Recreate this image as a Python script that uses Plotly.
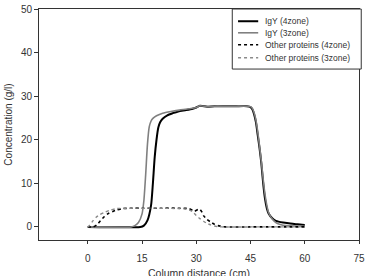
import plotly.graph_objects as go

# IgY (4zone)
igy4_x = [0, 14.5, 15.5, 16.5, 17.5, 18, 18.5, 19, 19.5, 20, 20.7, 22, 23.5, 25, 27.2, 29, 30, 31, 33, 35, 38, 41, 44,
          45, 45.5, 46, 46.5, 47, 47.5, 48, 48.5, 49, 49.5, 50, 51, 52, 54, 56, 58, 60]
igy4_y = [0, 0, 0.3, 1.5, 5, 10, 16, 20, 22.8, 24, 24.8, 25.6, 26.1, 26.5, 26.8, 27.1, 27.4, 27.8, 27.6, 27.7, 27.7, 27.7, 27.7,
          27.5, 27.0, 25.8, 24.0, 21.0, 18.0, 14.5, 10.0, 6.5, 4.3, 3.1, 2.0, 1.4, 1.0, 0.8, 0.6, 0.45]

# IgY (3zone)
igy3_x = [0, 12, 13, 14, 15, 15.5, 16, 16.5, 17, 17.5, 18, 19, 20.7, 23, 25.3, 28, 30, 31, 33, 35, 38, 41, 44,
          45, 45.5, 46, 46.5, 47, 47.5, 48, 48.5, 49, 49.5, 50, 51, 52, 53, 54, 56, 58, 60]
igy3_y = [0, 0, 0.3, 1.0, 3.0, 6.0, 12.0, 19.0, 23.0, 24.3, 24.9, 25.5, 26.1, 26.5, 26.8, 27.1, 27.4, 27.8, 27.6, 27.7, 27.7, 27.7, 27.7,
          27.6, 27.2, 26.2, 24.5, 21.8, 18.5, 15.0, 11.0, 7.5, 5.0, 3.3, 1.8, 1.0, 0.6, 0.4, 0.25, 0.2, 0.15]

# Other proteins (4zone)
oth4_x = [0, 1.5, 2.5, 3.5, 4.6, 5.5, 6.8, 8, 9.6, 12, 15, 20, 25, 28, 29, 29.5, 30.5, 31, 31.5, 32, 33, 34, 35, 36, 37, 38, 45, 50, 55, 60]
oth4_y = [0, 0, 0.5, 1.4, 2.4, 3.0, 3.5, 3.9, 4.2, 4.3, 4.3, 4.3, 4.3, 4.2, 3.8, 3.6, 4.0, 4.0, 3.5, 2.6, 1.7, 1.1, 0.6, 0.3, 0.1, 0, 0, 0, 0, 0]

# Other proteins (3zone)
oth3_x = [0, 0.5, 1.5, 2.3, 3.2, 4.5, 6, 8, 12, 15, 20, 25, 27, 28, 29, 30, 31, 32, 33, 34, 35, 36, 37, 45, 50, 55, 60]
oth3_y = [0, 0.4, 1.5, 2.2, 2.75, 3.3, 3.8, 4.2, 4.3, 4.3, 4.3, 4.2, 4.1, 3.9, 3.5, 2.6, 1.9, 1.3, 0.8, 0.45, 0.2, 0.05, 0, 0, 0, 0, 0]

series_names = ["IgY (4zone)", "IgY (3zone)", "Other proteins (4zone)", "Other proteins (3zone)"]
x_ticks = [0, 15, 30, 45, 60, 75]
y_ticks = [0, 10, 20, 30, 40, 50]
x_title = "Column distance (cm)"
y_title = "Concentration (g/l)"

styles = [
    dict(color="black", width=2, dash="solid"),
    dict(color="#808080", width=1.6, dash="solid"),
    dict(color="black", width=1.6, dash="dot"),
    dict(color="#8a8a8a", width=1.4, dash="dot"),
]
data = [(igy4_x, igy4_y), (igy3_x, igy3_y), (oth4_x, oth4_y), (oth3_x, oth3_y)]

fig = go.Figure()
for (xs, ys), name, st in zip(data, series_names, styles):
    fig.add_trace(go.Scatter(x=xs, y=ys, mode="lines", name=name, showlegend=False,
                             line=dict(color=st["color"], width=st["width"], dash=st["dash"],
                                       shape="spline", smoothing=0.6)))

# compact legend box (paper coordinates)
fig.add_shape(type="rect", xref="paper", yref="paper", x0=0.604, x1=1.007, y0=0.740, y1=1.0,
              line=dict(color="#333333", width=1), fillcolor="white", layer="above")
row_y = [0.947, 0.897, 0.845, 0.789]
for name, st, yy in zip(series_names, styles, row_y):
    fig.add_shape(type="line", xref="paper", yref="paper", x0=0.622, x1=0.685, y0=yy, y1=yy,
                  line=dict(color=st["color"], width=st["width"], dash=st["dash"]), layer="above")
    fig.add_annotation(text=name, xref="paper", yref="paper", x=0.700, y=yy, xanchor="left",
                       yanchor="middle", showarrow=False, font=dict(size=8.5, color="#333333"))

# x-axis title placed below the tick labels
fig.add_annotation(text=x_title, xref="paper", yref="paper", x=0.5, y=-0.142, xanchor="center",
                   yanchor="middle", showarrow=False, font=dict(size=10.5, color="#333333"))

fig.update_layout(
    width=367, height=276,
    margin=dict(l=39, r=8, t=9, b=36, autoexpand=False),
    paper_bgcolor="white", plot_bgcolor="white",
    font=dict(family="Liberation Sans, Arial, sans-serif", size=10, color="#333333"),
    showlegend=False,
)
fig.update_xaxes(range=[-13.5, 75], tickvals=x_ticks, ticktext=[str(v) for v in x_ticks],
                 showline=True, linecolor="#333333", linewidth=1, mirror=True, automargin=False,
                 ticks="outside", ticklen=3, tickcolor="#333333", showgrid=False, zeroline=False,
                 ticklabelstandoff=6)
fig.update_yaxes(range=[-3, 50], tickvals=y_ticks, ticktext=[str(v) for v in y_ticks],
                 showline=True, linecolor="#333333", linewidth=1, mirror=True, automargin=False,
                 ticks="outside", ticklen=4, tickcolor="#333333", showgrid=False, zeroline=False,
                 title=dict(text=y_title, font=dict(size=10), standoff=6))

fig.write_html("out.html")
